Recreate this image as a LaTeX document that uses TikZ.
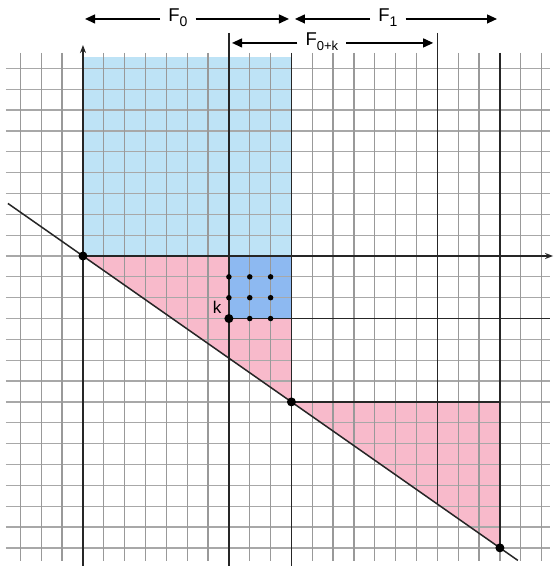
\documentclass[tikz,border=0pt]{standalone}
\usepackage{fontspec}
\setmainfont{Liberation Sans}
\usetikzlibrary{arrows.meta}
\definecolor{blueL}{HTML}{BEE3F6}
\definecolor{blueD}{HTML}{8DB9F1}
\definecolor{pinkL}{HTML}{F8BACB}
\begin{document}
\begin{tikzpicture}[x=20.85pt,y=20.85pt,
  gridv/.style={draw=black!40, line width=1.3pt},
  gridh/.style={draw=black!34, line width=1.3pt},
  dark/.style={draw=black!85, line width=1.5pt},
  axisarrow/.style={dark, -{Stealth[length=8pt,width=6pt]}},
  dimarrow/.style={draw=black, line width=1.2pt, -{Triangle[length=10pt,width=9pt]}},
  lbl/.style={font=\fontsize{18.5}{20}\selectfont, inner xsep=8pt, inner ysep=0pt, anchor=mid},
  dotbig/.style={circle, fill=black, inner sep=0pt, minimum size=9pt},
  dotsmall/.style={circle, fill=black, inner sep=0pt, minimum size=5.5pt}]
\useasboundingbox (-3.98,-14.87) rectangle (22.64,12.28);
\fill[white] (-3.98,-14.87) rectangle (22.64,12.28);
% fills
\fill[blueL] (0,0) rectangle (10,9.54);
\fill[pinkL] (0,0) -- (10,0) -- (10,-7) -- cycle;
\fill[pinkL] (10,-7) -- (20,-7) -- (20,-14) -- cycle;
\fill[blueD] (7,0) rectangle (10,-3);
% grid
\foreach \j in {-14,...,9} \draw[gridh] (-3.7,\j) -- (22.4,\j);
\foreach \i in {-3,...,22} \draw[gridv] (\i,9.74) -- (\i,-14.65);
% key points
\coordinate (O) at (0,0);
\coordinate (A) at (10,-7);
\coordinate (B) at (20,-14);
\coordinate (K) at (7,-3);
\coordinate (diagS) at (-3.6,2.52);
\coordinate (diagE) at (20.86,-14.602);
\coordinate (ybot) at (0,-14.85);
\coordinate (ytop) at (0,10.12);
\coordinate (xend) at (22.55,0);
\coordinate (v7t) at (7,10.7);
\coordinate (v7b) at (7,-14.85);
\coordinate (v10t) at (10,9.74);
\coordinate (v10b) at (10,-14.85);
\coordinate (v17t) at (17,10.7);
\coordinate (v17b) at (17,-11.9);
\coordinate (v20t) at (20,9.74);
\coordinate (h3e) at (22.4,-3);
\coordinate (h7e) at (20,-7);
% dark lines
\draw[dark] (v7t) -- (v7b);
\draw[dark] (v10t) -- (v10b);
\draw[dark] (v17t) -- (v17b);
\draw[dark] (v20t) -- (B);
\draw[dark] (K) -- (h3e);
\draw[dark] (A) -- (h7e);
\draw[axisarrow] (ybot) -- (ytop);
\draw[axisarrow] (O) -- (xend);
\draw[dark] (diagS) -- (diagE);
% dots
\node[dotbig] (dO) at (O) {};
\node[dotbig] (dA) at (A) {};
\node[dotbig] (dB) at (B) {};
\node[dotbig] (dK) at (K) {};
\foreach \p/\q in {7/-1,8/-1,9/-1,7/-2,8/-2,9/-2,8/-3,9/-3}
  \node[dotsmall] (s\p\q) at (\p,\q) {};
\node[font=\fontsize{17}{18}\selectfont, inner sep=0pt] (klbl) at (6.43,-2.45) {k};
% top dimension arrows
\coordinate (f0l) at (0.1,11.37);
\coordinate (f0r) at (9.88,11.37);
\coordinate (f1l) at (10.17,11.37);
\coordinate (f1r) at (19.86,11.37);
\coordinate (fkl) at (7.15,10.22);
\coordinate (fkr) at (16.8,10.22);
\node[lbl] (f0) at (4.55,11.37) {F\raisebox{-5pt}{\fontsize{14}{14}\selectfont 0}};
\node[lbl] (f1) at (14.63,11.37) {F\raisebox{-5pt}{\fontsize{14}{14}\selectfont 1}};
\node[lbl] (fk) at (11.46,10.22) {F\raisebox{-5pt}{\fontsize{13}{13}\selectfont 0+k}};
\draw[dimarrow] (f0.west |- f0l) -- (f0l);
\draw[dimarrow] (f0.east |- f0r) -- (f0r);
\draw[dimarrow] (f1.west |- f1l) -- (f1l);
\draw[dimarrow] (f1.east |- f1r) -- (f1r);
\draw[dimarrow] (fk.west |- fkl) -- (fkl);
\draw[dimarrow] (fk.east |- fkr) -- (fkr);
\end{tikzpicture}
\end{document}
